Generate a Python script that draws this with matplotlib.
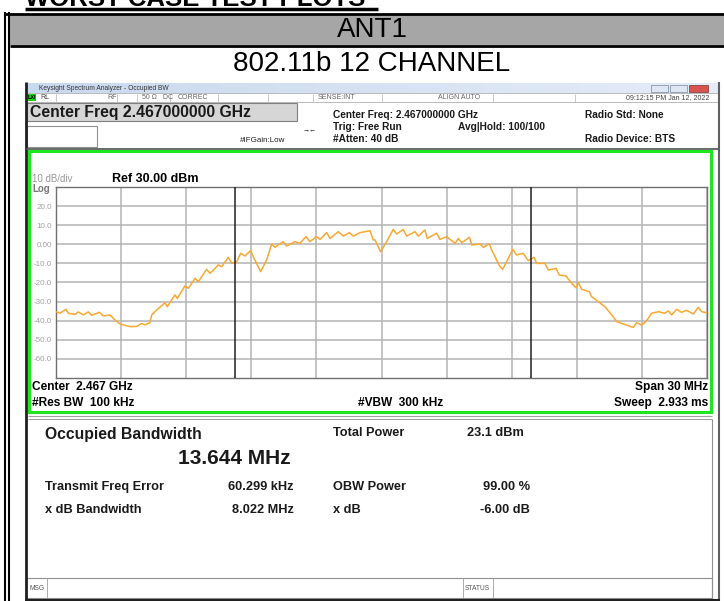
import matplotlib
matplotlib.use("Agg")
import matplotlib.pyplot as plt
from matplotlib.patches import Rectangle
import numpy as np

plt.rcParams['font.family'] = ['Liberation Sans', 'DejaVu Sans']

# ---------------- data ----------------
span_mhz = 30.0
center_label = "2.467 GHz"
ref_level = 30.0
db_per_div = 10.0
obw_mhz = 13.644
freq_err_khz = 60.299

freq_mhz = [-15.0, -14.82, -14.54, -14.43, -14.12, -13.97, -13.74, -13.51, -13.35, -13.00,
            -12.82, -12.51, -12.28, -12.05, -11.59, -11.28, -11.05, -10.90, -10.67, -10.59,
            -10.36, -9.98, -9.87, -9.52, -9.41, -9.06, -8.90, -8.59, -8.44, -8.06,
            -7.90, -7.52, -7.36, -7.06, -6.90, -6.67, -6.49, -6.29, -6.03, -5.91,
            -5.57, -5.29, -5.06, -4.91, -4.53, -4.37, -3.99, -3.76, -3.48, -3.30,
            -2.99, -2.83, -2.53, -2.37, -1.99, -1.76, -1.48, -1.30, -0.99, -0.53,
            -0.38, -0.30, -0.04, 0.24, 0.54, 0.70, 1.00, 1.16, 1.54, 1.70,
            2.00, 2.11, 2.54, 2.70, 3.00, 3.39, 3.54, 3.70, 4.05, 4.16,
            4.54, 4.69, 4.97, 5.08, 5.46, 5.58, 5.77, 6.05, 6.23, 6.53,
            6.76, 7.03, 7.15, 7.53, 7.69, 8.04, 8.19, 8.50, 8.76, 8.96,
            9.07, 9.23, 9.58, 9.68, 9.99, 10.30, 10.61, 10.84, 11.30, 11.60,
            11.76, 11.99, 12.22, 12.45, 12.76, 13.06, 13.22, 13.37, 13.60, 13.83,
            14.06, 14.37, 14.60, 14.76, 14.99]
level_dbm = [-35.3, -36.1, -34.0, -36.1, -36.7, -35.4, -37.0, -35.4, -37.2, -35.6,
             -37.5, -37.0, -39.6, -41.7, -43.1, -43.0, -41.4, -42.2, -41.0, -37.0,
             -34.4, -30.6, -32.7, -26.5, -28.3, -21.8, -23.0, -17.8, -19.6, -13.1,
             -15.2, -10.8, -11.7, -6.8, -10.0, -9.1, -4.7, -6.1, -3.3, -6.5,
             -14.3, -8.2, 0.2, -1.6, 1.4, -0.9, 1.4, 0.5, 4.0, 1.4,
             4.0, 2.6, 6.1, 3.1, 6.6, 4.3, 6.1, 4.3, 6.1, 7.1,
             2.3, 2.3, -3.9, 1.4, 7.8, 5.4, 7.8, 4.3, 6.6, 4.3,
             7.5, 3.1, 5.8, 2.6, 4.0, 0.5, 3.1, 0.8, 3.7, -0.4,
             0.2, -1.6, 0.2, -3.0, -11.7, -13.1, -9.1, -2.6, -5.6, -4.7,
             -8.6, -6.8, -10.0, -10.0, -13.5, -12.6, -16.1, -16.6, -20.4, -22.7,
             -20.1, -23.6, -24.8, -27.4, -30.0, -32.7, -37.0, -40.5, -42.3, -43.5,
             -41.0, -42.3, -40.0, -36.1, -35.3, -36.1, -34.8, -37.0, -34.0, -35.6,
             -34.6, -36.5, -33.0, -35.3, -35.8]

ytick_vals = [20, 10, 0, -10, -20, -30, -40, -50, -60]
ytick_labels = ["20.0", "10.0", "0.00", "-10.0", "-20.0", "-30.0", "-40.0", "-50.0", "-60.0"]

# ---------------- figure ----------------
W, H = 724, 601
fig = plt.figure(figsize=(W / 100, H / 100), dpi=100)
bg = fig.add_axes([0, 0, 1, 1])
bg.set_xlim(0, W)
bg.set_ylim(H, 0)
bg.axis('off')


def rect(x0, y0, x1, y1, fc='none', ec='none', lw=1.0, z=1):
    bg.add_patch(Rectangle((x0, y0), x1 - x0, y1 - y0, facecolor=fc, edgecolor=ec, lw=lw, zorder=z))


def hline(y, x0, x1, c='black', lw=1.0, z=3):
    bg.plot([x0, x1], [y, y], color=c, lw=lw, zorder=z, solid_capstyle='butt')


def vline(x, y0, y1, c='black', lw=1.0, z=3):
    bg.plot([x, x], [y0, y1], color=c, lw=lw, zorder=z, solid_capstyle='butt')


def txt(x, y, s, size, ha='left', va='center', weight='normal', color='black', z=5):
    bg.text(x, y, s, fontsize=size, ha=ha, va=va, fontweight=weight, color=color, zorder=z)


# heading (cut off at top, as in the source document)
txt(25, 5.5, "WORST CASE TEST PLOTS", 18.5, va='baseline', weight='bold')
hline(9, 25, 378, lw=2.5)

# table
rect(10, 14, W, 45, fc='#a6a6a6')
hline(13.5, 5, W, lw=2)
hline(45.5, 10, W, lw=2)
vline(4.5, 12, H, lw=1.5)
vline(8.5, 12, H, lw=1.5)
txt(372, 30, "ANT1", 20, ha='center')
txt(372, 64, "802.11b 12 CHANNEL", 20, ha='center')

# analyzer window
rect(25, 82, 720, H, fc='white', ec='none')
vline(25.5, 82, H, c='#202020', lw=2)
vline(719, 82, H, c='#606060', lw=1.5)
# title bar
grad = np.linspace(0, 1, 50).reshape(1, -1)
bg.imshow(grad, extent=[26, 719, 93, 83],
          cmap=matplotlib.colors.LinearSegmentedColormap.from_list('tb', ['#c9d9ee', '#e4ecf7']),
          aspect='auto', zorder=2)
rect(27, 84.5, 35, 91.5, fc='#8a6d3b')
txt(39, 88, "Keysight Spectrum Analyzer - Occupied BW", 4.8, color='#333333')
rect(651, 84.5, 668, 91.5, fc='#dde6f2', ec='#8899aa', lw=0.6, z=3)
rect(670, 84.5, 687, 91.5, fc='#dde6f2', ec='#8899aa', lw=0.6, z=3)
rect(689, 84.5, 708, 91.5, fc='#d9534f', ec='#884444', lw=0.6, z=3)

# status row
rect(26, 93, 719, 101.5, fc='white', ec='#b0b0b0', lw=0.6)
rect(27, 94, 36, 101, fc='#1fd01f')
txt(28, 97.5, "LXI", 4, color='black', weight='bold')
txt(40, 97.5, "RL", 5, color='#444444')
txt(107, 97.5, "RF", 5, color='#666666')
txt(142, 97.5, "50 \u03a9   DC", 5, color='#666666')
txt(178, 97.5, "CORREC", 5, color='#666666')
txt(318, 97.5, "SENSE:INT", 5, color='#666666')
txt(438, 97.5, "ALIGN AUTO", 5, color='#666666')
txt(709, 97.5, "09:12:15 PM Jan 12, 2022", 5, ha='right', color='#444444')
for xs in [56, 117, 137, 170, 218, 268, 313, 382, 493, 575]:
    vline(xs, 93.5, 101.5, c='#c0c0c0', lw=0.6)

# settings block
rect(27, 103, 297, 121, fc='#d6d6d6', ec='#808080', lw=0.8)
txt(30, 112.5, "Center Freq 2.467000000 GHz", 11.3, weight='bold', color='#1a1a1a')
rect(27, 126, 97, 147, fc='white', ec='#909090', lw=0.8)
txt(240, 141, "#IFGain:Low", 5.8, color='#222222')
txt(303, 130, "\u2192\u2190", 5, color='black')
txt(333, 115, "Center Freq: 2.467000000 GHz", 7.3, weight='bold', color='#1a1a1a')
txt(333, 127, "Trig: Free Run", 7.3, weight='bold', color='#1a1a1a')
txt(458, 127, "Avg|Hold: 100/100", 7.3, weight='bold', color='#1a1a1a')
txt(333, 139, "#Atten: 40 dB", 7.3, weight='bold', color='#1a1a1a')
txt(585, 115, "Radio Std: None", 7.3, weight='bold', color='#1a1a1a')
txt(585, 139, "Radio Device: BTS", 7.3, weight='bold', color='#1a1a1a')
hline(149, 26, 719, c='#505050', lw=1.2)

# green frame
rect(29, 151, 711, 412, fc='none', ec='#1ee61e', lw=2.2, z=4)
txt(32, 179, "10 dB/div", 7, color='#999999')
txt(32, 189, "Log", 7, color='#777777', weight='bold')
txt(112, 179, "Ref 30.00 dBm", 9, weight='bold')
txt(32, 387, "Center  2.467 GHz", 8.6, weight='bold')
txt(32, 403, "#Res BW  100 kHz", 8.6, weight='bold')
txt(358, 403, "#VBW  300 kHz", 8.6, weight='bold')
txt(708, 387, "Span 30 MHz", 8.6, weight='bold', ha='right')
txt(708, 403, "Sweep  2.933 ms", 8.6, weight='bold', ha='right')

# result panel
hline(416, 28, 712, c='#a0a0a0', lw=0.8)
hline(418.5, 28, 712, c='#a0a0a0', lw=0.8)
txt(45, 435, "Occupied Bandwidth", 11.3, weight='bold', color='#1a1a1a')
txt(178, 458, "13.644 MHz", 15, weight='bold', color='#1a1a1a')
txt(333, 433, "Total Power", 9.2, weight='bold', color='#1a1a1a')
txt(467, 433, "23.1 dBm", 9.2, weight='bold', color='#1a1a1a')
txt(45, 487, "Transmit Freq Error", 9.2, weight='bold', color='#1a1a1a')
txt(294, 487, "60.299 kHz", 9.2, weight='bold', color='#1a1a1a', ha='right')
txt(333, 487, "OBW Power", 9.2, weight='bold', color='#1a1a1a')
txt(530, 487, "99.00 %", 9.2, weight='bold', color='#1a1a1a', ha='right')
txt(45, 510, "x dB Bandwidth", 9.2, weight='bold', color='#1a1a1a')
txt(294, 510, "8.022 MHz", 9.2, weight='bold', color='#1a1a1a', ha='right')
txt(333, 510, "x dB", 9.2, weight='bold', color='#1a1a1a')
txt(530, 510, "-6.00 dB", 9.2, weight='bold', color='#1a1a1a', ha='right')

# bottom status bar
vline(712, 419, 599, c='#909090', lw=0.8)
rect(26, 578, 712, 598, fc='white', ec='#909090', lw=0.8)
vline(47, 578, 598, c='#a0a0a0', lw=0.6)
vline(463, 578, 598, c='#a0a0a0', lw=0.6)
vline(493, 578, 598, c='#a0a0a0', lw=0.6)
txt(29, 589, "MSG", 4.8, color='#555555')
txt(465, 589, "STATUS", 4.8, color='#555555')
hline(599.5, 25, 720, c='#202020', lw=1.5)

# ---------------- spectrum plot ----------------
ax = fig.add_axes([56 / W, 1 - 378 / H, 651 / W, 191 / H])
ax.set_xlim(-span_mhz / 2, span_mhz / 2)
ax.set_ylim(ref_level - 10 * db_per_div, ref_level)
ax.set_facecolor('white')
ax.set_xticks(np.arange(-span_mhz / 2, span_mhz / 2 + 0.01, span_mhz / 10))
ax.set_xticklabels([])
ax.set_yticks(ytick_vals)
ax.set_yticklabels(ytick_labels, fontsize=5.8, color='#a0a0a0')
ax.tick_params(length=0, pad=3)
ax.grid(True, color='#b4b4b4', lw=1.1)
for s in ax.spines.values():
    s.set_color('#707070')
    s.set_linewidth(1.0)
ax.plot(freq_mhz, level_dbm, color='#f8a830', lw=1.1, zorder=3)
half = obw_mhz / 2
off = freq_err_khz / 1000
for xm in (off - half, off + half):
    ax.axvline(xm, color='#202020', lw=1.1, zorder=4)

fig.savefig("out.png", dpi=100)
